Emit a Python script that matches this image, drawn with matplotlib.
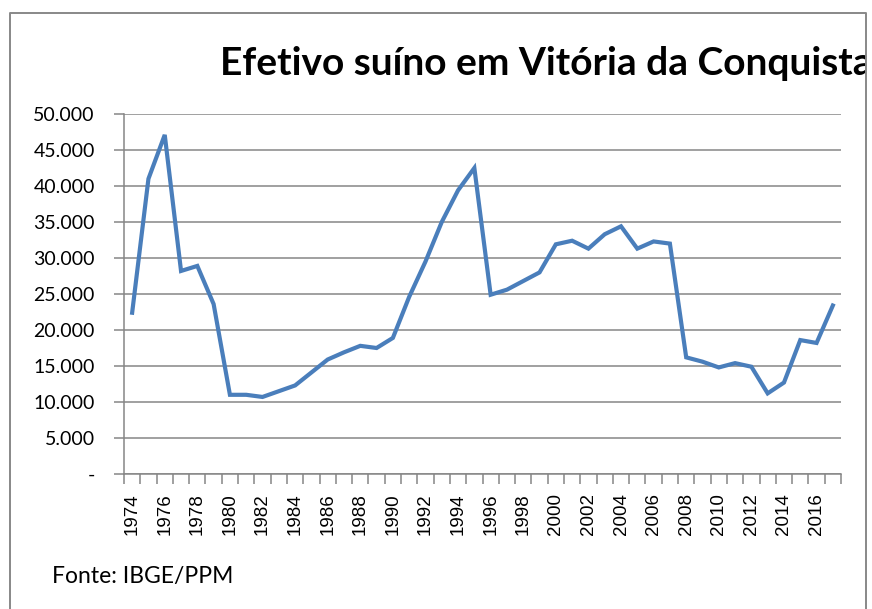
import numpy as np
import matplotlib
matplotlib.use('Agg')
import matplotlib.pyplot as plt
from matplotlib.patches import Rectangle
from matplotlib.ticker import FuncFormatter

# Efetivo suino - Vitoria da Conquista (IBGE/PPM)
anos = list(range(1974, 2018))
efetivo = [22400, 41000, 47100, 28200, 28900, 23600, 11000, 11000, 10700, 11500,
           12300, 14100, 15900, 16900, 17800, 17500, 18900, 24600, 29500, 35000,
           39400, 42500, 24900, 25600, 26800, 28000, 31900, 32400, 31300, 33300,
           34400, 31300, 32300, 32000, 16200, 15600, 14800, 15400, 14900, 11200,
           12700, 18600, 18200, 23400]
titulo = 'Efetivo suíno em Vitória da Conquista'
fonte = 'Fonte: IBGE/PPM'

W, H = 872, 609
fig = plt.figure(figsize=(W / 100, H / 100), dpi=100)
ax = fig.add_axes([124 / W, 1 - 474 / H, (841 - 124) / W, (474 - 114) / H])

x = np.arange(len(anos))
ax.plot(x, efetivo, color='#4A7EBB', lw=3.0, solid_joinstyle='miter', zorder=3)

ax.set_xlim(-0.5, len(anos) - 0.5)
ax.set_ylim(0, 50000)

grid_c = '#868686'
ax.set_yticks(np.arange(0, 50001, 5000))
ax.yaxis.set_major_formatter(FuncFormatter(
    lambda v, p: '-' if v == 0 else f'{int(v):,}'.replace(',', '.')))
ax.grid(axis='y', color=grid_c, lw=1.1)
ax.set_axisbelow(True)

# categorias: marcas entre anos, rotulo a cada 2 anos
ax.set_xticks(np.arange(-0.5, len(anos), 1.0), minor=True)
ax.set_xticks(x[::2])
ax.set_xticklabels([str(a) for a in anos[::2]], rotation=90,
                   fontfamily='Liberation Sans', fontsize=13.5)
ax.tick_params(axis='x', which='major', length=0, pad=14)
ax.tick_params(axis='x', which='minor', length=7, color=grid_c, width=1.1)
ax.tick_params(axis='y', length=7, color=grid_c, width=1.1, pad=14)
for lab in ax.get_yticklabels():
    lab.set_fontfamily('Lato')
    lab.set_fontsize(14)

for s in ['top', 'right']:
    ax.spines[s].set_visible(False)
for s in ['left', 'bottom']:
    ax.spines[s].set_color(grid_c)
    ax.spines[s].set_linewidth(1.1)

fig.text(220 / W, 1 - 75 / H, titulo, fontfamily='Lato', fontweight='bold',
         fontsize=28, ha='left', va='baseline')
fig.text(52 / W, 1 - 583 / H, fonte, fontfamily='Lato', fontsize=16.5,
         ha='left', va='baseline')

# corta o titulo na borda do grafico, como no original
fig.patches.append(Rectangle((866 / W, 0), 6 / W, 1, transform=fig.transFigure,
                             facecolor='white', edgecolor='none', zorder=10))
fig.lines.append(plt.Line2D([10 / W, 10 / W, 866 / W, 866 / W],
                            [0, 1 - 13 / H, 1 - 13 / H, 0],
                            transform=fig.transFigure, color='#888888', lw=1.4, zorder=11))

fig.savefig('out.png', dpi=100)
